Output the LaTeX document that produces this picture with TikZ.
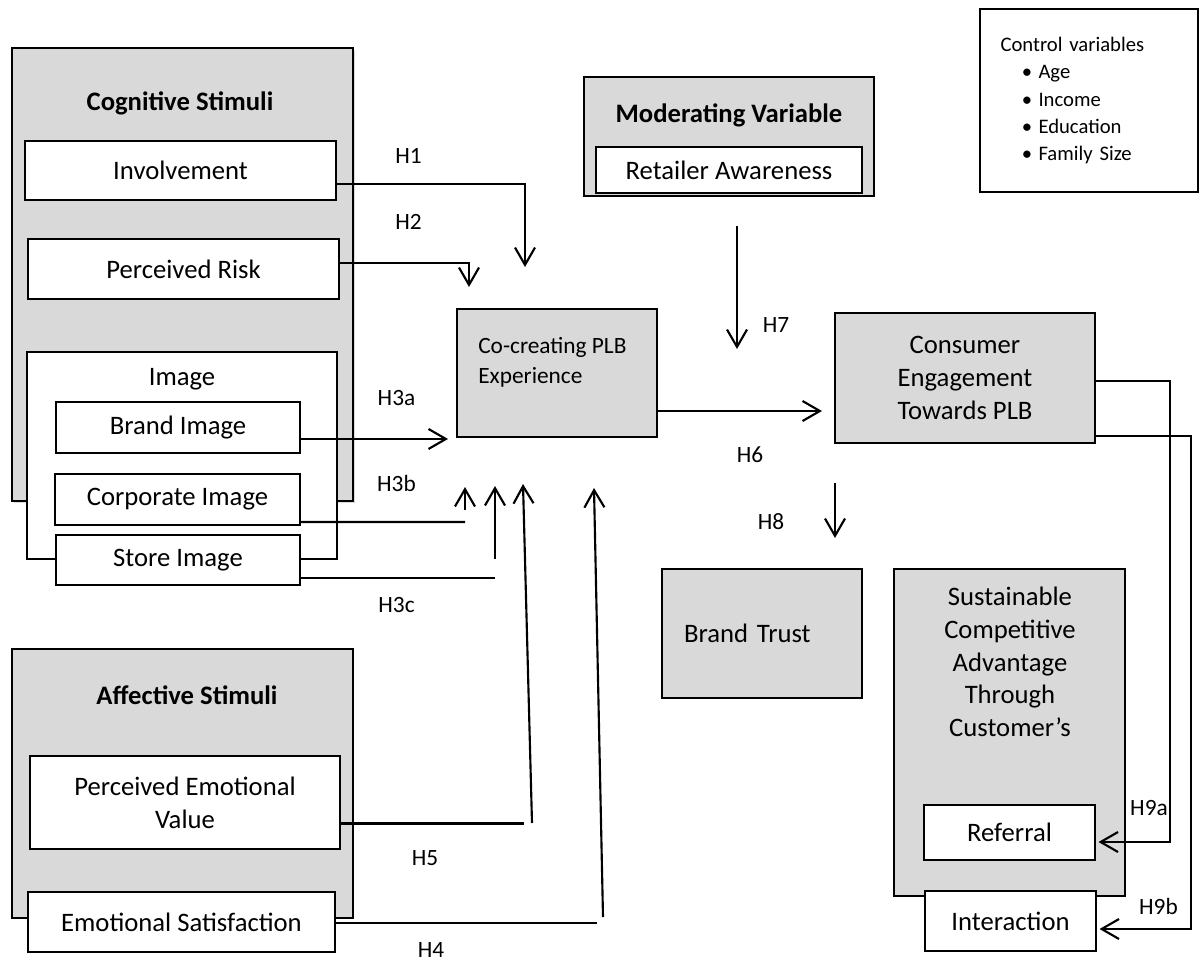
\documentclass[tikz,border=0pt]{standalone}
\usepackage{fontspec}
\setmainfont{Carlito}
\usetikzlibrary{arrows.meta,shadows}
\definecolor{boxgrey}{RGB}{217,217,217}

\tikzset{
  greybox/.style={draw, line width=1.5pt, fill=boxgrey, inner sep=0pt},
  whitebox/.style={draw, line width=1.3pt, fill=white, inner sep=0pt},
  boxtext/.style={font=\fontsize{20}{24.5}\selectfont, align=center},
  boldtext/.style={font=\fontsize{20}{24.5}\selectfont\bfseries, inner sep=0pt},
  hyp/.style={font=\fontsize{17.5}{21}\selectfont, inner sep=0pt},
  link/.style={line width=1.6pt},
  arr/.style={line width=1.6pt, -{Straight Barb[length=13pt,width=15pt]}},
}

\begin{document}
\begin{tikzpicture}[x=0.75pt,y=0.75pt,yscale=-1,xscale=1]
\useasboundingbox (0,0) rectangle (1200,961);

%Shape: Rectangle - cognitive stimuli
\node[greybox, drop shadow={opacity=0.3,shadow xshift=1.5pt,shadow yshift=-1.5pt}, minimum width=255.75pt, minimum height=339.75pt] (cog) at (182.5,274.5) {};
\node[boldtext] (cogtitle) at (180,103) {Cognitive Stimuli};
\node[whitebox, boxtext, minimum width=233.25pt, minimum height=44.25pt] (invol) at (180.5,170.5) {Involvement};
\node[whitebox, boxtext, minimum width=233.25pt, minimum height=45pt] (risk) at (183.5,269) {Perceived Risk};
%Shape: Rectangle - image
\node[whitebox, minimum width=232.5pt, minimum height=155.25pt] (img) at (182,455.5) {};
\node[boxtext, inner sep=0pt] (imgtitle) at (182,379) {Image};
\node[whitebox, boxtext, line width=1pt, minimum width=183pt, minimum height=38.25pt] (brand) at (178,427.5) {Brand Image};
\node[whitebox, boxtext, line width=1pt, minimum width=183.75pt, minimum height=38.25pt] (corp) at (177.5,499.5) {Corporate Image};
\node[whitebox, boxtext, line width=1pt, minimum width=183pt, minimum height=37.5pt] (store) at (178,560) {Store Image};

%Shape: Rectangle - affective stimuli
\node[greybox, minimum width=255.75pt, minimum height=201.75pt] (aff) at (182.5,783.5) {};
\node[boldtext] (afftitle) at (187,695) {Affective Stimuli};
\node[whitebox, boxtext, minimum width=232.5pt, minimum height=69.75pt] (pev) at (185,802.5) {Perceived Emotional\\Value};
\node[whitebox, boxtext, minimum width=230.25pt, minimum height=45pt] (emosat) at (181.5,922) {Emotional Satisfaction};

%Shape: Rectangle - co-creating
\node[greybox, minimum width=150pt, minimum height=96pt] (cocreate) at (557,373) {};
\node[anchor=west, align=left, inner sep=0pt, font=\fontsize{17.5}{22.5}\selectfont] (cotext) at (478,362) {Co-creating PLB\\Experience};

%Shape: Rectangle - moderating
\node[greybox, minimum width=217.5pt, minimum height=89.25pt] (mod) at (729,136.5) {};
\node[boldtext] (modtitle) at (729,115) {Moderating Variable};
\node[whitebox, boxtext, minimum width=199.5pt, minimum height=34.5pt] (retail) at (729,170) {Retailer Awareness};

%Shape: Rectangle - control variables
\node[draw, line width=1.5pt, fill=white, minimum width=163.5pt, minimum height=137.25pt, text width=132pt, inner xsep=15.75pt, align=left, font=\fontsize{15.5}{20.6}\selectfont] (ctrl) at (1088.5,100.5) {Control variables\\
\hspace*{16pt}\makebox[12.5pt][l]{\textbullet}Age\\
\hspace*{16pt}\makebox[12.5pt][l]{\textbullet}Income\\
\hspace*{16pt}\makebox[12.5pt][l]{\textbullet}Education\\
\hspace*{16pt}\makebox[12.5pt][l]{\textbullet}Family Size};

%Shape: Rectangle - outcomes
\node[greybox, boxtext, minimum width=195pt, minimum height=97.5pt] (consumer) at (965,378) {Consumer\\Engagement\\Towards PLB};
\node[greybox, boxtext, align=left, text width=117pt, inner xsep=16.5pt, minimum width=150pt, minimum height=96.75pt] (trust) at (762,633.5) {Brand Trust};
\node[greybox, minimum width=173.25pt, minimum height=245.25pt] (sust) at (1009.5,732.5) {};
\node[boxtext, inner sep=0pt] (susttext) at (1010,662) {Sustainable\\Competitive\\Advantage\\Through\\Customer’s};
\node[whitebox, boxtext, minimum width=128.25pt, minimum height=41.25pt] (referral) at (1009.5,832.5) {Referral};
\node[whitebox, boxtext, minimum width=128.25pt, minimum height=45pt] (interact) at (1010.5,921) {Interaction};

%Connector coordinates
\coordinate (h1tip) at (525,267);
\coordinate (h2tip) at (469,287);
\coordinate (h3a) at ([yshift=8.6pt]brand.east);
\coordinate (h3bend) at (465,522);
\coordinate (h3bfoot) at (465,510);
\coordinate (h3btip) at (465,487);
\coordinate (h3cend) at (495,578);
\coordinate (h3cfoot) at (495,559);
\coordinate (h3ctip) at (495,486);
\coordinate (h5end) at (524,823.5);
\coordinate (h5foot) at (532,823);
\coordinate (h5tip) at (523,484);
\coordinate (h4end) at (597,923);
\coordinate (h4foot) at (603,917);
\coordinate (h4tip) at (594,488);
\coordinate (h6) at ([yshift=28.5pt]cocreate.east);
\coordinate (h7top) at (737,226);
\coordinate (h7tip) at (737,349);
\coordinate (h8top) at (835,483);
\coordinate (h8tip) at (835,538);
\coordinate (h9a) at ([yshift=2.25pt]consumer.east);
\coordinate (h9abend) at (1170,842);
\coordinate (h9b) at ([yshift=43.5pt]consumer.east);
\coordinate (h9bbend) at (1191,929);

%Straight Lines
\draw[arr] ([yshift=10.1pt]invol.east) -| (h1tip);
\draw[arr] ([yshift=-4.5pt]risk.east) -| (h2tip);
\draw[arr, shorten >=6pt] (h3a) -- (h3a -| cocreate.west);
\draw[link] ([yshift=16.9pt]corp.east) -- (h3bend);
\draw[arr] (h3bfoot) -- (h3btip);
\draw[link] ([yshift=13.5pt]store.east) -- (h3cend);
\draw[arr] (h3cfoot) -- (h3ctip);
\draw[link] ([yshift=15.75pt]pev.east) -- (h5end);
\draw[arr] (h5foot) -- (h5tip);
\draw[link] ([yshift=0.75pt]emosat.east) -- (h4end);
\draw[arr] (h4foot) -- (h4tip);
\draw[arr, shorten >=9pt] (h6) -- (h6 -| consumer.west);
\draw[arr] (h7top) -- (h7tip);
\draw[arr] (h8top) -- (h8tip);
\draw[arr, shorten >=2pt] (h9a) -| (h9abend) -- (h9abend -| referral.east);
\draw[arr, shorten >=2pt] (h9b) -| (h9bbend) -- (h9bbend -| interact.east);

% Text Node
\node[hyp] (lh1) at (408.5,156) {H1};
\node[hyp] (lh2) at (408.5,222) {H2};
\node[hyp] (lh3a) at (396.5,398) {H3a};
\node[hyp] (lh3b) at (396.5,483) {H3b};
\node[hyp] (lh3c) at (396.5,605) {H3c};
\node[hyp] (lh5) at (425,858) {H5};
\node[hyp] (lh4) at (431,950) {H4};
\node[hyp] (lh6) at (750,455) {H6};
\node[hyp] (lh7) at (776,325) {H7};
\node[hyp] (lh8) at (771,522) {H8};
\node[hyp] (lh9a) at (1149,808) {H9a};
\node[hyp] (lh9b) at (1158.5,906) {H9b};

\end{tikzpicture}
\end{document}
